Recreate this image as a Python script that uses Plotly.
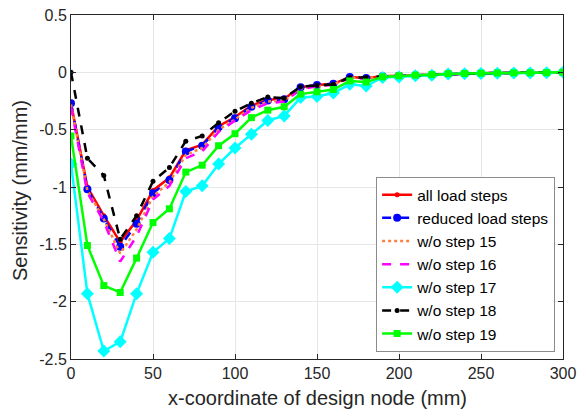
import plotly.graph_objects as go

x_nodes = list(range(0, 301, 10))

tail = [-0.035, -0.03, -0.025, -0.02, -0.012, -0.01, -0.008, -0.006, -0.005, -0.004, -0.003, 0.0]

all_load_steps = [-0.27, -1.00, -1.25, -1.48, -1.29, -1.03, -0.92, -0.68, -0.63, -0.47, -0.39,
                  -0.29, -0.24, -0.23, -0.13, -0.11, -0.10, -0.04, -0.05] + tail
reduced_load_steps = [-0.27, -1.02, -1.275, -1.52, -1.32, -1.055, -0.94, -0.69, -0.64, -0.48, -0.40,
                      -0.30, -0.245, -0.235, -0.13, -0.11, -0.10, -0.04, -0.05] + tail
wo_step_15 = [-0.28, -1.03, -1.28, -1.58, -1.37, -1.08, -0.96, -0.72, -0.66, -0.50, -0.41,
              -0.31, -0.255, -0.245, -0.14, -0.12, -0.105, -0.045, -0.05] + tail
wo_step_16 = [-0.30, -1.05, -1.30, -1.65, -1.43, -1.11, -0.99, -0.75, -0.69, -0.52, -0.42,
              -0.33, -0.27, -0.255, -0.15, -0.12, -0.11, -0.05, -0.055] + tail
wo_step_17 = [-0.80, -1.93, -2.43, -2.35, -1.93, -1.57, -1.45, -1.04, -0.99, -0.80, -0.66,
              -0.54, -0.42, -0.38, -0.22, -0.21, -0.18, -0.105, -0.12, -0.045, -0.04,
              -0.03, -0.025, -0.015, -0.012, -0.01, -0.008, -0.006, -0.005, -0.003, 0.0]
wo_step_18 = [0.0, -0.75, -0.90, -1.455, -1.25, -0.95, -0.83, -0.60, -0.555, -0.44, -0.34,
              -0.27, -0.215, -0.225, -0.125, -0.113, -0.105, -0.046, -0.046] + tail
wo_step_19 = [-0.555, -1.51, -1.86, -1.92, -1.62, -1.31, -1.19, -0.87, -0.81, -0.64, -0.535,
              -0.395, -0.33, -0.30, -0.19, -0.17, -0.15, -0.075, -0.085, -0.04, -0.03,
              -0.025, -0.02, -0.012, -0.01, -0.008, -0.006, -0.005, -0.004, -0.003, 0.0]

series_names = ["all load steps", "reduced load steps", "w/o step 15", "w/o step 16",
                "w/o step 17", "w/o step 18", "w/o step 19"]

x_tickvals = [0, 50, 100, 150, 200, 250, 300]
x_ticktext = ["0", "50", "100", "150", "200", "250", "300"]
y_tickvals = [0.5, 0, -0.5, -1, -1.5, -2, -2.5]
y_ticktext = ["0.5", "0", "-0.5", "-1", "-1.5", "-2", "-2.5"]

x_title = "x-coordinate of design node (mm)"
y_title = "Sensitivity (mm/mm)"

styles = [
    dict(color="#ff0000", dash="solid", mode="lines+markers", symbol="circle", size=5),
    dict(color="#0000ff", dash="dash", mode="lines+markers", symbol="circle", size=8),
    dict(color="#ff7f40", dash="dot", mode="lines", symbol="circle", size=1),
    dict(color="#ff00ff", dash="dash", mode="lines", symbol="circle", size=1),
    dict(color="#00ffff", dash="solid", mode="lines+markers", symbol="diamond", size=10),
    dict(color="#000000", dash="dash", mode="lines+markers", symbol="circle", size=5),
    dict(color="#00ff00", dash="solid", mode="lines+markers", symbol="square", size=7),
]
data = [all_load_steps, reduced_load_steps, wo_step_15, wo_step_16, wo_step_17, wo_step_18, wo_step_19]

fig = go.Figure()
for name, ys, st in zip(series_names, data, styles):
    fig.add_trace(go.Scatter(
        x=x_nodes, y=ys, name=name, mode=st["mode"],
        line=dict(color=st["color"], dash=st["dash"], width=2.5),
        marker=dict(color=st["color"], symbol=st["symbol"], size=st["size"]),
    ))

font_family = "Liberation Sans, Arial, sans-serif"
fig.update_layout(
    width=579, height=420,
    margin=dict(l=71, r=16, t=15, b=61),
    paper_bgcolor="white", plot_bgcolor="white",
    font=dict(family=font_family, size=16, color="#262626"),
    legend=dict(x=0.984, y=0.02, xanchor="right", yanchor="bottom",
                bgcolor="white", bordercolor="#8c8c8c", borderwidth=1,
                font=dict(size=15.5, color="black"), tracegroupgap=0),
    showlegend=True,
    annotations=[
        dict(text=x_title, xref="paper", yref="paper", x=0.5, y=-0.113,
             xanchor="center", yanchor="middle", showarrow=False,
             font=dict(size=20, color="#262626")),
        dict(text=y_title, xref="paper", yref="paper", x=-0.1037, y=0.491,
             xanchor="center", yanchor="middle", showarrow=False, textangle=-90,
             font=dict(size=20, color="#262626")),
    ],
)
axis_common = dict(
    showgrid=True, gridcolor="#e6e6e6", gridwidth=1,
    showline=True, linecolor="#262626", linewidth=1, mirror="ticks",
    ticks="inside", ticklen=5, tickcolor="#262626", zeroline=False, automargin=False,
)
fig.update_xaxes(range=[0, 300], tickvals=x_tickvals, ticktext=x_ticktext, **axis_common)
fig.update_yaxes(range=[-2.5, 0.5], tickvals=y_tickvals, ticktext=y_ticktext, **axis_common)
fig.write_html("out.html")
